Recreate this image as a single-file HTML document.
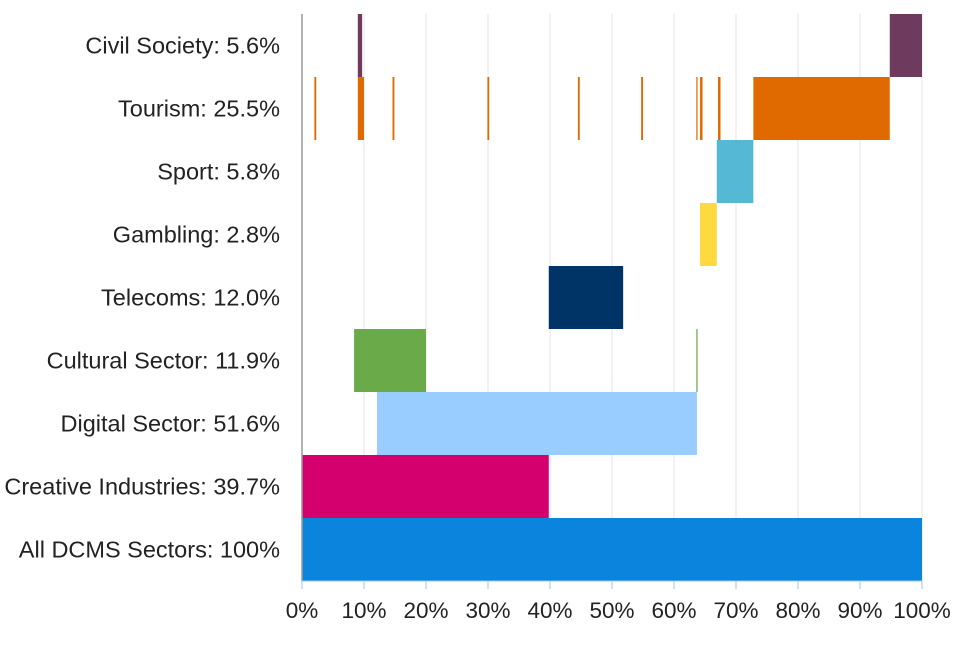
<!DOCTYPE html>
<html><head><meta charset="utf-8"><style>
body{margin:0;background:#fff;font-family:"Liberation Sans",sans-serif}
svg text{font-family:"Liberation Sans",sans-serif;fill:#222}
</style></head><body>
<svg id="chart" width="960" height="640"></svg>
<script>
const categories=["Civil Society: 5.6%","Tourism: 25.5%","Sport: 5.8%","Gambling: 2.8%","Telecoms: 12.0%","Cultural Sector: 11.9%","Digital Sector: 51.6%","Creative Industries: 39.7%","All DCMS Sectors: 100%"];
const segStarts=[[9.0,94.8],[2.0,9.0,14.6,29.9,44.5,54.7,63.6,64.2,67.1,72.8],[66.9],[64.2],[39.8],[8.4,63.6],[12.1],[0],[0]];
const segEnds=[[9.7,100],[2.3,10.0,14.9,30.2,44.8,55.0,63.8,64.6,67.5,94.8],[72.8],[66.9],[51.8],[20.0,63.8],[63.7],[39.8],[100]];
const colors=["#6e3b5e","#e06a00","#55b8d4","#ffd940","#003366","#6aaa48","#99ccff","#d4006e","#0b84de"];
const ticks=[0,10,20,30,40,50,60,70,80,90,100];
const ns="http://www.w3.org/2000/svg";
const svg=document.getElementById("chart");
const X0=302,X1=922,Y0=14,RH=63;
const x=v=>X0+(X1-X0)*v/100;
const yRow=i=>Y0+i*RH;
const Y1=yRow(categories.length);
function mk(t,a){const e=document.createElementNS(ns,t);for(const k in a)e.setAttribute(k,a[k]);svg.appendChild(e);return e;}
ticks.forEach((t,i)=>{
  if(t>0){const g=mk("line",{x1:x(t),x2:x(t),y1:Y0,y2:Y1,stroke:"#e6e6e6","stroke-width":1});
  
  }
  const tk=mk("line",{x1:x(t),x2:x(t),y1:Y1,y2:Y1+8,stroke:"#9cc8ec","stroke-width":1});
  
  
  const lb=mk("text",{x:x(t),y:Y1+37,"text-anchor":"middle","font-size":"22.5"});
  lb.textContent=t+"%";
  
  
});
categories.forEach((c,i)=>{
  const lb=mk("text",{x:280,y:yRow(i)+RH/2+8,"text-anchor":"end","font-size":"23.5"});
  lb.textContent=c;
  
  
  segStarts[i].forEach((s,j)=>{
    const e=segEnds[i][j];
    const r=mk("rect",{x:x(s),y:yRow(i),width:Math.max(1,x(e)-x(s)),height:RH,fill:colors[i]});
    
    
  });
});
const ax=mk("line",{x1:X0,x2:X0,y1:Y0,y2:Y1,stroke:"#999","stroke-width":1.5});


const bx=mk("line",{x1:X0,x2:X1,y1:Y1,y2:Y1,stroke:"#9cc8ec","stroke-width":1});


</script>
</body></html>
